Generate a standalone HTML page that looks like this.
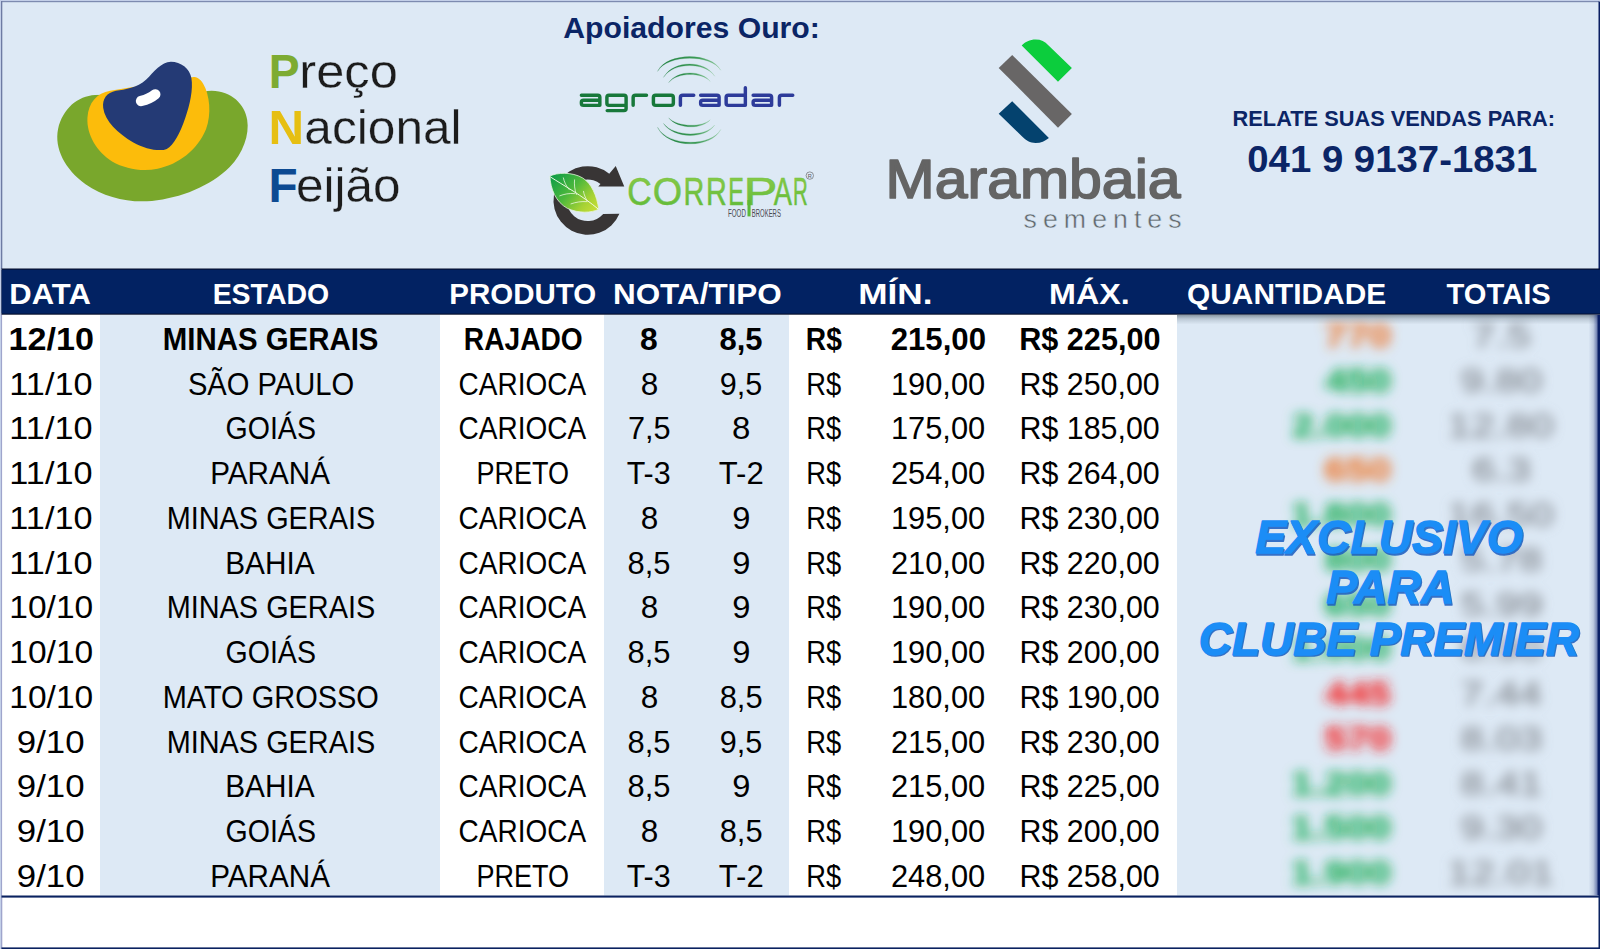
<!DOCTYPE html>
<html lang="pt-BR">
<head>
<meta charset="utf-8">
<title>Preço Nacional Feijão</title>
<style>
html,body{margin:0;padding:0;background:#fff;}
body{width:1600px;height:949px;overflow:hidden;font-family:"Liberation Sans",sans-serif;}
svg{display:block;}
text{white-space:pre;}
</style>
</head>
<body>
<svg width="1600" height="949" viewBox="0 0 1600 949">
<defs>
  <filter id="blur" x="-20%" y="-50%" width="140%" height="200%"><feGaussianBlur stdDeviation="5.9"/></filter>
  <filter id="blur2" x="-20%" y="-50%" width="140%" height="200%"><feGaussianBlur stdDeviation="3"/></filter>
  <linearGradient id="leafg" x1="0" y1="0.1" x2="1" y2="0.8">
    <stop offset="0" stop-color="#0d9c47"/><stop offset="0.45" stop-color="#4db83c"/><stop offset="0.8" stop-color="#a6d234"/><stop offset="1" stop-color="#c2dc36"/>
  </linearGradient>
  <linearGradient id="corg" x1="0" y1="0" x2="0" y2="1">
    <stop offset="0" stop-color="#90cd4a"/><stop offset="1" stop-color="#5ab838"/>
  </linearGradient>
  <linearGradient id="arcg" x1="0" y1="0" x2="1" y2="0">
    <stop offset="0" stop-color="#1f7f3f"/><stop offset="0.6" stop-color="#3a9a55"/><stop offset="1" stop-color="#8cc79a"/>
  </linearGradient>
  <linearGradient id="edge" x1="0" y1="0" x2="1" y2="0">
    <stop offset="0" stop-color="#1a2f78" stop-opacity="0"/><stop offset="0.5" stop-color="#1a2f78" stop-opacity="0.16"/><stop offset="0.85" stop-color="#14287a" stop-opacity="0.5"/><stop offset="1" stop-color="#0a1f66" stop-opacity="0.8"/>
  </linearGradient>
  <linearGradient id="topsh" x1="0" y1="0" x2="0" y2="1">
    <stop offset="0" stop-color="#4a5a66" stop-opacity="0.62"/><stop offset="0.45" stop-color="#5a6a78" stop-opacity="0.25"/><stop offset="1" stop-color="#5a6a78" stop-opacity="0"/>
  </linearGradient>
  <clipPath id="panelclip"><rect x="1177" y="314.5" width="423" height="581"/></clipPath>
</defs>

<rect x="0" y="0" width="1600" height="949" fill="#ffffff"/>
<rect x="0" y="0" width="1600" height="269" fill="#dde9f5"/>
<rect x="0" y="0" width="1600" height="1.2" fill="#c3cfe8"/>
<rect x="0" y="0" width="1.2" height="949" fill="#c3cfe8"/>
<rect x="1" y="1" width="1598" height="1.2" fill="#7d8bb0"/>
<rect x="1" y="1" width="1.3" height="268" fill="#6d7ba3"/>
<rect x="1" y="314" width="1.3" height="635" fill="#9fa5cc"/>
<rect x="1598.5" y="1.5" width="1.5" height="268" fill="#0a1f62"/>
<rect x="2.3" y="314.5" width="97.7" height="581.0" fill="#fff"/>
<rect x="100" y="314.5" width="340" height="581.0" fill="#dde9f5"/>
<rect x="440" y="314.5" width="164" height="581.0" fill="#fff"/>
<rect x="604" y="314.5" width="185" height="581.0" fill="#dde9f5"/>
<rect x="789" y="314.5" width="388" height="581.0" fill="#fff"/>
<rect x="1177" y="314.5" width="423" height="581.0" fill="#dde9f5"/>
<rect x="1.5" y="268.5" width="1598.5" height="46.2" fill="#050d2a"/>
<rect x="1.5" y="269.6" width="1598.5" height="44" fill="#022262"/>
<text x="9.29" y="304.40" font-family="Liberation Sans, sans-serif" font-size="29.94" font-weight="700" fill="#fff" textLength="81.49" lengthAdjust="spacingAndGlyphs" >DATA</text>
<text x="212.63" y="304.40" font-family="Liberation Sans, sans-serif" font-size="29.94" font-weight="700" fill="#fff" textLength="116.55" lengthAdjust="spacingAndGlyphs" >ESTADO</text>
<text x="449.28" y="304.40" font-family="Liberation Sans, sans-serif" font-size="29.94" font-weight="700" fill="#fff" textLength="146.95" lengthAdjust="spacingAndGlyphs" >PRODUTO</text>
<text x="612.93" y="304.40" font-family="Liberation Sans, sans-serif" font-size="29.94" font-weight="700" fill="#fff" textLength="168.88" lengthAdjust="spacingAndGlyphs" >NOTA/TIPO</text>
<text x="858.15" y="304.40" font-family="Liberation Sans, sans-serif" font-size="29.94" font-weight="700" fill="#fff" textLength="74.28" lengthAdjust="spacingAndGlyphs" >MÍN.</text>
<text x="1049.09" y="304.40" font-family="Liberation Sans, sans-serif" font-size="29.94" font-weight="700" fill="#fff" textLength="80.63" lengthAdjust="spacingAndGlyphs" >MÁX.</text>
<text x="1187.08" y="304.40" font-family="Liberation Sans, sans-serif" font-size="29.94" font-weight="700" fill="#fff" textLength="199.09" lengthAdjust="spacingAndGlyphs" >QUANTIDADE</text>
<text x="1446.58" y="304.40" font-family="Liberation Sans, sans-serif" font-size="29.94" font-weight="700" fill="#fff" textLength="104.13" lengthAdjust="spacingAndGlyphs" >TOTAIS</text>
<g>
<text x="8.45" y="349.90" font-family="Liberation Sans, sans-serif" font-size="31.69" font-weight="700" fill="#000" textLength="85.45" lengthAdjust="spacingAndGlyphs" >12/10</text>
<text x="162.83" y="349.90" font-family="Liberation Sans, sans-serif" font-size="31.69" font-weight="700" fill="#000" textLength="215.62" lengthAdjust="spacingAndGlyphs" >MINAS GERAIS</text>
<text x="463.82" y="349.90" font-family="Liberation Sans, sans-serif" font-size="31.69" font-weight="700" fill="#000" textLength="118.87" lengthAdjust="spacingAndGlyphs" >RAJADO</text>
<text x="639.99" y="349.90" font-family="Liberation Sans, sans-serif" font-size="31.69" font-weight="700" fill="#000" textLength="17.69" lengthAdjust="spacingAndGlyphs" >8</text>
<text x="719.52" y="349.90" font-family="Liberation Sans, sans-serif" font-size="31.69" font-weight="700" fill="#000" textLength="43.04" lengthAdjust="spacingAndGlyphs" >8,5</text>
<text x="805.86" y="349.90" font-family="Liberation Sans, sans-serif" font-size="31.69" font-weight="700" fill="#000" textLength="36.03" lengthAdjust="spacingAndGlyphs" >R$</text>
<text x="890.67" y="349.90" font-family="Liberation Sans, sans-serif" font-size="31.69" font-weight="700" fill="#000" textLength="95.36" lengthAdjust="spacingAndGlyphs" >215,00</text>
<text x="1019.20" y="349.90" font-family="Liberation Sans, sans-serif" font-size="31.69" font-weight="700" fill="#000" textLength="141.30" lengthAdjust="spacingAndGlyphs" >R$ 225,00</text>
</g>
<g>
<text x="9.37" y="394.64" font-family="Liberation Sans, sans-serif" font-size="31.69" font-weight="400" fill="#000" textLength="83.18" lengthAdjust="spacingAndGlyphs" >11/10</text>
<text x="187.89" y="394.64" font-family="Liberation Sans, sans-serif" font-size="31.69" font-weight="400" fill="#000" textLength="166.38" lengthAdjust="spacingAndGlyphs" >SÃO PAULO</text>
<text x="458.58" y="394.64" font-family="Liberation Sans, sans-serif" font-size="31.69" font-weight="400" fill="#000" textLength="127.48" lengthAdjust="spacingAndGlyphs" >CARIOCA</text>
<text x="640.63" y="394.64" font-family="Liberation Sans, sans-serif" font-size="31.69" font-weight="400" fill="#000" textLength="17.54" lengthAdjust="spacingAndGlyphs" >8</text>
<text x="719.82" y="394.64" font-family="Liberation Sans, sans-serif" font-size="31.69" font-weight="400" fill="#000" textLength="42.46" lengthAdjust="spacingAndGlyphs" >9,5</text>
<text x="806.26" y="394.64" font-family="Liberation Sans, sans-serif" font-size="31.69" font-weight="400" fill="#000" textLength="34.93" lengthAdjust="spacingAndGlyphs" >R$</text>
<text x="890.90" y="394.64" font-family="Liberation Sans, sans-serif" font-size="31.69" font-weight="400" fill="#000" textLength="94.30" lengthAdjust="spacingAndGlyphs" >190,00</text>
<text x="1019.51" y="394.64" font-family="Liberation Sans, sans-serif" font-size="31.69" font-weight="400" fill="#000" textLength="140.18" lengthAdjust="spacingAndGlyphs" >R$ 250,00</text>
</g>
<g>
<text x="9.37" y="439.38" font-family="Liberation Sans, sans-serif" font-size="31.69" font-weight="400" fill="#000" textLength="83.18" lengthAdjust="spacingAndGlyphs" >11/10</text>
<text x="225.57" y="439.38" font-family="Liberation Sans, sans-serif" font-size="31.69" font-weight="400" fill="#000" textLength="90.34" lengthAdjust="spacingAndGlyphs" >GOIÁS</text>
<text x="458.58" y="439.38" font-family="Liberation Sans, sans-serif" font-size="31.69" font-weight="400" fill="#000" textLength="127.48" lengthAdjust="spacingAndGlyphs" >CARIOCA</text>
<text x="627.93" y="439.38" font-family="Liberation Sans, sans-serif" font-size="31.69" font-weight="400" fill="#000" textLength="42.66" lengthAdjust="spacingAndGlyphs" >7,5</text>
<text x="732.06" y="439.38" font-family="Liberation Sans, sans-serif" font-size="31.69" font-weight="400" fill="#000" textLength="18.37" lengthAdjust="spacingAndGlyphs" >8</text>
<text x="806.26" y="439.38" font-family="Liberation Sans, sans-serif" font-size="31.69" font-weight="400" fill="#000" textLength="34.93" lengthAdjust="spacingAndGlyphs" >R$</text>
<text x="890.90" y="439.38" font-family="Liberation Sans, sans-serif" font-size="31.69" font-weight="400" fill="#000" textLength="94.30" lengthAdjust="spacingAndGlyphs" >175,00</text>
<text x="1019.51" y="439.38" font-family="Liberation Sans, sans-serif" font-size="31.69" font-weight="400" fill="#000" textLength="140.18" lengthAdjust="spacingAndGlyphs" >R$ 185,00</text>
</g>
<g>
<text x="9.37" y="484.12" font-family="Liberation Sans, sans-serif" font-size="31.69" font-weight="400" fill="#000" textLength="83.18" lengthAdjust="spacingAndGlyphs" >11/10</text>
<text x="210.21" y="484.12" font-family="Liberation Sans, sans-serif" font-size="31.69" font-weight="400" fill="#000" textLength="119.75" lengthAdjust="spacingAndGlyphs" >PARANÁ</text>
<text x="476.50" y="484.12" font-family="Liberation Sans, sans-serif" font-size="31.69" font-weight="400" fill="#000" textLength="92.59" lengthAdjust="spacingAndGlyphs" >PRETO</text>
<text x="626.64" y="484.12" font-family="Liberation Sans, sans-serif" font-size="31.69" font-weight="400" fill="#000" textLength="43.95" lengthAdjust="spacingAndGlyphs" >T-3</text>
<text x="718.83" y="484.12" font-family="Liberation Sans, sans-serif" font-size="31.69" font-weight="400" fill="#000" textLength="44.88" lengthAdjust="spacingAndGlyphs" >T-2</text>
<text x="806.26" y="484.12" font-family="Liberation Sans, sans-serif" font-size="31.69" font-weight="400" fill="#000" textLength="34.93" lengthAdjust="spacingAndGlyphs" >R$</text>
<text x="890.90" y="484.12" font-family="Liberation Sans, sans-serif" font-size="31.69" font-weight="400" fill="#000" textLength="94.30" lengthAdjust="spacingAndGlyphs" >254,00</text>
<text x="1019.51" y="484.12" font-family="Liberation Sans, sans-serif" font-size="31.69" font-weight="400" fill="#000" textLength="140.18" lengthAdjust="spacingAndGlyphs" >R$ 264,00</text>
</g>
<g>
<text x="9.37" y="528.86" font-family="Liberation Sans, sans-serif" font-size="31.69" font-weight="400" fill="#000" textLength="83.18" lengthAdjust="spacingAndGlyphs" >11/10</text>
<text x="166.73" y="528.86" font-family="Liberation Sans, sans-serif" font-size="31.69" font-weight="400" fill="#000" textLength="208.49" lengthAdjust="spacingAndGlyphs" >MINAS GERAIS</text>
<text x="458.58" y="528.86" font-family="Liberation Sans, sans-serif" font-size="31.69" font-weight="400" fill="#000" textLength="127.48" lengthAdjust="spacingAndGlyphs" >CARIOCA</text>
<text x="640.63" y="528.86" font-family="Liberation Sans, sans-serif" font-size="31.69" font-weight="400" fill="#000" textLength="17.54" lengthAdjust="spacingAndGlyphs" >8</text>
<text x="732.37" y="528.86" font-family="Liberation Sans, sans-serif" font-size="31.69" font-weight="400" fill="#000" textLength="18.18" lengthAdjust="spacingAndGlyphs" >9</text>
<text x="806.26" y="528.86" font-family="Liberation Sans, sans-serif" font-size="31.69" font-weight="400" fill="#000" textLength="34.93" lengthAdjust="spacingAndGlyphs" >R$</text>
<text x="890.90" y="528.86" font-family="Liberation Sans, sans-serif" font-size="31.69" font-weight="400" fill="#000" textLength="94.30" lengthAdjust="spacingAndGlyphs" >195,00</text>
<text x="1019.51" y="528.86" font-family="Liberation Sans, sans-serif" font-size="31.69" font-weight="400" fill="#000" textLength="140.18" lengthAdjust="spacingAndGlyphs" >R$ 230,00</text>
</g>
<g>
<text x="9.37" y="573.60" font-family="Liberation Sans, sans-serif" font-size="31.69" font-weight="400" fill="#000" textLength="83.18" lengthAdjust="spacingAndGlyphs" >11/10</text>
<text x="225.26" y="573.60" font-family="Liberation Sans, sans-serif" font-size="31.69" font-weight="400" fill="#000" textLength="89.30" lengthAdjust="spacingAndGlyphs" >BAHIA</text>
<text x="458.58" y="573.60" font-family="Liberation Sans, sans-serif" font-size="31.69" font-weight="400" fill="#000" textLength="127.48" lengthAdjust="spacingAndGlyphs" >CARIOCA</text>
<text x="627.56" y="573.60" font-family="Liberation Sans, sans-serif" font-size="31.69" font-weight="400" fill="#000" textLength="42.94" lengthAdjust="spacingAndGlyphs" >8,5</text>
<text x="732.37" y="573.60" font-family="Liberation Sans, sans-serif" font-size="31.69" font-weight="400" fill="#000" textLength="18.18" lengthAdjust="spacingAndGlyphs" >9</text>
<text x="806.26" y="573.60" font-family="Liberation Sans, sans-serif" font-size="31.69" font-weight="400" fill="#000" textLength="34.93" lengthAdjust="spacingAndGlyphs" >R$</text>
<text x="890.90" y="573.60" font-family="Liberation Sans, sans-serif" font-size="31.69" font-weight="400" fill="#000" textLength="94.30" lengthAdjust="spacingAndGlyphs" >210,00</text>
<text x="1019.51" y="573.60" font-family="Liberation Sans, sans-serif" font-size="31.69" font-weight="400" fill="#000" textLength="140.18" lengthAdjust="spacingAndGlyphs" >R$ 220,00</text>
</g>
<g>
<text x="9.35" y="618.34" font-family="Liberation Sans, sans-serif" font-size="31.69" font-weight="400" fill="#000" textLength="83.86" lengthAdjust="spacingAndGlyphs" >10/10</text>
<text x="166.73" y="618.34" font-family="Liberation Sans, sans-serif" font-size="31.69" font-weight="400" fill="#000" textLength="208.49" lengthAdjust="spacingAndGlyphs" >MINAS GERAIS</text>
<text x="458.58" y="618.34" font-family="Liberation Sans, sans-serif" font-size="31.69" font-weight="400" fill="#000" textLength="127.48" lengthAdjust="spacingAndGlyphs" >CARIOCA</text>
<text x="640.63" y="618.34" font-family="Liberation Sans, sans-serif" font-size="31.69" font-weight="400" fill="#000" textLength="17.54" lengthAdjust="spacingAndGlyphs" >8</text>
<text x="732.37" y="618.34" font-family="Liberation Sans, sans-serif" font-size="31.69" font-weight="400" fill="#000" textLength="18.18" lengthAdjust="spacingAndGlyphs" >9</text>
<text x="806.26" y="618.34" font-family="Liberation Sans, sans-serif" font-size="31.69" font-weight="400" fill="#000" textLength="34.93" lengthAdjust="spacingAndGlyphs" >R$</text>
<text x="890.90" y="618.34" font-family="Liberation Sans, sans-serif" font-size="31.69" font-weight="400" fill="#000" textLength="94.30" lengthAdjust="spacingAndGlyphs" >190,00</text>
<text x="1019.51" y="618.34" font-family="Liberation Sans, sans-serif" font-size="31.69" font-weight="400" fill="#000" textLength="140.18" lengthAdjust="spacingAndGlyphs" >R$ 230,00</text>
</g>
<g>
<text x="9.35" y="663.08" font-family="Liberation Sans, sans-serif" font-size="31.69" font-weight="400" fill="#000" textLength="83.86" lengthAdjust="spacingAndGlyphs" >10/10</text>
<text x="225.57" y="663.08" font-family="Liberation Sans, sans-serif" font-size="31.69" font-weight="400" fill="#000" textLength="90.34" lengthAdjust="spacingAndGlyphs" >GOIÁS</text>
<text x="458.58" y="663.08" font-family="Liberation Sans, sans-serif" font-size="31.69" font-weight="400" fill="#000" textLength="127.48" lengthAdjust="spacingAndGlyphs" >CARIOCA</text>
<text x="627.56" y="663.08" font-family="Liberation Sans, sans-serif" font-size="31.69" font-weight="400" fill="#000" textLength="42.94" lengthAdjust="spacingAndGlyphs" >8,5</text>
<text x="732.37" y="663.08" font-family="Liberation Sans, sans-serif" font-size="31.69" font-weight="400" fill="#000" textLength="18.18" lengthAdjust="spacingAndGlyphs" >9</text>
<text x="806.26" y="663.08" font-family="Liberation Sans, sans-serif" font-size="31.69" font-weight="400" fill="#000" textLength="34.93" lengthAdjust="spacingAndGlyphs" >R$</text>
<text x="890.90" y="663.08" font-family="Liberation Sans, sans-serif" font-size="31.69" font-weight="400" fill="#000" textLength="94.30" lengthAdjust="spacingAndGlyphs" >190,00</text>
<text x="1019.51" y="663.08" font-family="Liberation Sans, sans-serif" font-size="31.69" font-weight="400" fill="#000" textLength="140.18" lengthAdjust="spacingAndGlyphs" >R$ 200,00</text>
</g>
<g>
<text x="9.35" y="707.82" font-family="Liberation Sans, sans-serif" font-size="31.69" font-weight="400" fill="#000" textLength="83.86" lengthAdjust="spacingAndGlyphs" >10/10</text>
<text x="162.65" y="707.82" font-family="Liberation Sans, sans-serif" font-size="31.69" font-weight="400" fill="#000" textLength="216.22" lengthAdjust="spacingAndGlyphs" >MATO GROSSO</text>
<text x="458.58" y="707.82" font-family="Liberation Sans, sans-serif" font-size="31.69" font-weight="400" fill="#000" textLength="127.48" lengthAdjust="spacingAndGlyphs" >CARIOCA</text>
<text x="640.63" y="707.82" font-family="Liberation Sans, sans-serif" font-size="31.69" font-weight="400" fill="#000" textLength="17.54" lengthAdjust="spacingAndGlyphs" >8</text>
<text x="719.66" y="707.82" font-family="Liberation Sans, sans-serif" font-size="31.69" font-weight="400" fill="#000" textLength="42.94" lengthAdjust="spacingAndGlyphs" >8,5</text>
<text x="806.26" y="707.82" font-family="Liberation Sans, sans-serif" font-size="31.69" font-weight="400" fill="#000" textLength="34.93" lengthAdjust="spacingAndGlyphs" >R$</text>
<text x="890.90" y="707.82" font-family="Liberation Sans, sans-serif" font-size="31.69" font-weight="400" fill="#000" textLength="94.30" lengthAdjust="spacingAndGlyphs" >180,00</text>
<text x="1019.51" y="707.82" font-family="Liberation Sans, sans-serif" font-size="31.69" font-weight="400" fill="#000" textLength="140.18" lengthAdjust="spacingAndGlyphs" >R$ 190,00</text>
</g>
<g>
<text x="16.77" y="752.56" font-family="Liberation Sans, sans-serif" font-size="31.69" font-weight="400" fill="#000" textLength="67.79" lengthAdjust="spacingAndGlyphs" >9/10</text>
<text x="166.73" y="752.56" font-family="Liberation Sans, sans-serif" font-size="31.69" font-weight="400" fill="#000" textLength="208.49" lengthAdjust="spacingAndGlyphs" >MINAS GERAIS</text>
<text x="458.58" y="752.56" font-family="Liberation Sans, sans-serif" font-size="31.69" font-weight="400" fill="#000" textLength="127.48" lengthAdjust="spacingAndGlyphs" >CARIOCA</text>
<text x="627.56" y="752.56" font-family="Liberation Sans, sans-serif" font-size="31.69" font-weight="400" fill="#000" textLength="42.94" lengthAdjust="spacingAndGlyphs" >8,5</text>
<text x="719.82" y="752.56" font-family="Liberation Sans, sans-serif" font-size="31.69" font-weight="400" fill="#000" textLength="42.46" lengthAdjust="spacingAndGlyphs" >9,5</text>
<text x="806.26" y="752.56" font-family="Liberation Sans, sans-serif" font-size="31.69" font-weight="400" fill="#000" textLength="34.93" lengthAdjust="spacingAndGlyphs" >R$</text>
<text x="890.90" y="752.56" font-family="Liberation Sans, sans-serif" font-size="31.69" font-weight="400" fill="#000" textLength="94.30" lengthAdjust="spacingAndGlyphs" >215,00</text>
<text x="1019.51" y="752.56" font-family="Liberation Sans, sans-serif" font-size="31.69" font-weight="400" fill="#000" textLength="140.18" lengthAdjust="spacingAndGlyphs" >R$ 230,00</text>
</g>
<g>
<text x="16.77" y="797.30" font-family="Liberation Sans, sans-serif" font-size="31.69" font-weight="400" fill="#000" textLength="67.79" lengthAdjust="spacingAndGlyphs" >9/10</text>
<text x="225.26" y="797.30" font-family="Liberation Sans, sans-serif" font-size="31.69" font-weight="400" fill="#000" textLength="89.30" lengthAdjust="spacingAndGlyphs" >BAHIA</text>
<text x="458.58" y="797.30" font-family="Liberation Sans, sans-serif" font-size="31.69" font-weight="400" fill="#000" textLength="127.48" lengthAdjust="spacingAndGlyphs" >CARIOCA</text>
<text x="627.56" y="797.30" font-family="Liberation Sans, sans-serif" font-size="31.69" font-weight="400" fill="#000" textLength="42.94" lengthAdjust="spacingAndGlyphs" >8,5</text>
<text x="732.37" y="797.30" font-family="Liberation Sans, sans-serif" font-size="31.69" font-weight="400" fill="#000" textLength="18.18" lengthAdjust="spacingAndGlyphs" >9</text>
<text x="806.26" y="797.30" font-family="Liberation Sans, sans-serif" font-size="31.69" font-weight="400" fill="#000" textLength="34.93" lengthAdjust="spacingAndGlyphs" >R$</text>
<text x="890.90" y="797.30" font-family="Liberation Sans, sans-serif" font-size="31.69" font-weight="400" fill="#000" textLength="94.30" lengthAdjust="spacingAndGlyphs" >215,00</text>
<text x="1019.51" y="797.30" font-family="Liberation Sans, sans-serif" font-size="31.69" font-weight="400" fill="#000" textLength="140.18" lengthAdjust="spacingAndGlyphs" >R$ 225,00</text>
</g>
<g>
<text x="16.77" y="842.04" font-family="Liberation Sans, sans-serif" font-size="31.69" font-weight="400" fill="#000" textLength="67.79" lengthAdjust="spacingAndGlyphs" >9/10</text>
<text x="225.57" y="842.04" font-family="Liberation Sans, sans-serif" font-size="31.69" font-weight="400" fill="#000" textLength="90.34" lengthAdjust="spacingAndGlyphs" >GOIÁS</text>
<text x="458.58" y="842.04" font-family="Liberation Sans, sans-serif" font-size="31.69" font-weight="400" fill="#000" textLength="127.48" lengthAdjust="spacingAndGlyphs" >CARIOCA</text>
<text x="640.63" y="842.04" font-family="Liberation Sans, sans-serif" font-size="31.69" font-weight="400" fill="#000" textLength="17.54" lengthAdjust="spacingAndGlyphs" >8</text>
<text x="719.66" y="842.04" font-family="Liberation Sans, sans-serif" font-size="31.69" font-weight="400" fill="#000" textLength="42.94" lengthAdjust="spacingAndGlyphs" >8,5</text>
<text x="806.26" y="842.04" font-family="Liberation Sans, sans-serif" font-size="31.69" font-weight="400" fill="#000" textLength="34.93" lengthAdjust="spacingAndGlyphs" >R$</text>
<text x="890.90" y="842.04" font-family="Liberation Sans, sans-serif" font-size="31.69" font-weight="400" fill="#000" textLength="94.30" lengthAdjust="spacingAndGlyphs" >190,00</text>
<text x="1019.51" y="842.04" font-family="Liberation Sans, sans-serif" font-size="31.69" font-weight="400" fill="#000" textLength="140.18" lengthAdjust="spacingAndGlyphs" >R$ 200,00</text>
</g>
<g>
<text x="16.77" y="886.78" font-family="Liberation Sans, sans-serif" font-size="31.69" font-weight="400" fill="#000" textLength="67.79" lengthAdjust="spacingAndGlyphs" >9/10</text>
<text x="210.21" y="886.78" font-family="Liberation Sans, sans-serif" font-size="31.69" font-weight="400" fill="#000" textLength="119.75" lengthAdjust="spacingAndGlyphs" >PARANÁ</text>
<text x="476.50" y="886.78" font-family="Liberation Sans, sans-serif" font-size="31.69" font-weight="400" fill="#000" textLength="92.59" lengthAdjust="spacingAndGlyphs" >PRETO</text>
<text x="626.64" y="886.78" font-family="Liberation Sans, sans-serif" font-size="31.69" font-weight="400" fill="#000" textLength="43.95" lengthAdjust="spacingAndGlyphs" >T-3</text>
<text x="718.83" y="886.78" font-family="Liberation Sans, sans-serif" font-size="31.69" font-weight="400" fill="#000" textLength="44.88" lengthAdjust="spacingAndGlyphs" >T-2</text>
<text x="806.26" y="886.78" font-family="Liberation Sans, sans-serif" font-size="31.69" font-weight="400" fill="#000" textLength="34.93" lengthAdjust="spacingAndGlyphs" >R$</text>
<text x="890.90" y="886.78" font-family="Liberation Sans, sans-serif" font-size="31.69" font-weight="400" fill="#000" textLength="94.30" lengthAdjust="spacingAndGlyphs" >248,00</text>
<text x="1019.51" y="886.78" font-family="Liberation Sans, sans-serif" font-size="31.69" font-weight="400" fill="#000" textLength="140.18" lengthAdjust="spacingAndGlyphs" >R$ 258,00</text>
</g>
<g clip-path="url(#panelclip)">
<g filter="url(#blur)">
<text x="1324.07" y="347.20" font-family="Liberation Sans, sans-serif" font-size="32.32" font-weight="700" fill="#ee7a33" textLength="67.08" lengthAdjust="spacingAndGlyphs" stroke="#ee7a33" stroke-width="0.5">770</text>
<text x="1471.88" y="347.20" font-family="Liberation Sans, sans-serif" font-size="32.32" font-weight="400" fill="#83888f" textLength="58.85" lengthAdjust="spacingAndGlyphs" stroke="#83888f" stroke-width="0.5">7.5</text>
<text x="1325.20" y="391.94" font-family="Liberation Sans, sans-serif" font-size="32.32" font-weight="700" fill="#1cae58" textLength="65.92" lengthAdjust="spacingAndGlyphs" stroke="#1cae58" stroke-width="0.5">450</text>
<text x="1460.48" y="391.94" font-family="Liberation Sans, sans-serif" font-size="32.32" font-weight="400" fill="#83888f" textLength="81.71" lengthAdjust="spacingAndGlyphs" stroke="#83888f" stroke-width="0.5">9.80</text>
<text x="1292.03" y="436.68" font-family="Liberation Sans, sans-serif" font-size="32.32" font-weight="700" fill="#1cae58" textLength="99.10" lengthAdjust="spacingAndGlyphs" stroke="#1cae58" stroke-width="0.5">2.000</text>
<text x="1447.62" y="436.68" font-family="Liberation Sans, sans-serif" font-size="32.32" font-weight="400" fill="#83888f" textLength="106.19" lengthAdjust="spacingAndGlyphs" stroke="#83888f" stroke-width="0.5">12.80</text>
<text x="1324.33" y="481.42" font-family="Liberation Sans, sans-serif" font-size="32.32" font-weight="700" fill="#ee7a33" textLength="66.81" lengthAdjust="spacingAndGlyphs" stroke="#ee7a33" stroke-width="0.5">650</text>
<text x="1471.90" y="481.42" font-family="Liberation Sans, sans-serif" font-size="32.32" font-weight="400" fill="#83888f" textLength="58.91" lengthAdjust="spacingAndGlyphs" stroke="#83888f" stroke-width="0.5">6.3</text>
<text x="1290.88" y="526.16" font-family="Liberation Sans, sans-serif" font-size="32.32" font-weight="700" fill="#1cae58" textLength="100.27" lengthAdjust="spacingAndGlyphs" stroke="#1cae58" stroke-width="0.5">1.800</text>
<text x="1447.62" y="526.16" font-family="Liberation Sans, sans-serif" font-size="32.32" font-weight="400" fill="#83888f" textLength="106.19" lengthAdjust="spacingAndGlyphs" stroke="#83888f" stroke-width="0.5">16.50</text>
<text x="1324.53" y="570.90" font-family="Liberation Sans, sans-serif" font-size="32.32" font-weight="700" fill="#1cae58" textLength="66.60" lengthAdjust="spacingAndGlyphs" stroke="#1cae58" stroke-width="0.5">800</text>
<text x="1460.77" y="570.90" font-family="Liberation Sans, sans-serif" font-size="32.32" font-weight="400" fill="#83888f" textLength="81.60" lengthAdjust="spacingAndGlyphs" stroke="#83888f" stroke-width="0.5">5.78</text>
<text x="1324.33" y="615.64" font-family="Liberation Sans, sans-serif" font-size="32.32" font-weight="700" fill="#1cae58" textLength="66.81" lengthAdjust="spacingAndGlyphs" stroke="#1cae58" stroke-width="0.5">650</text>
<text x="1460.77" y="615.64" font-family="Liberation Sans, sans-serif" font-size="32.32" font-weight="400" fill="#83888f" textLength="81.77" lengthAdjust="spacingAndGlyphs" stroke="#83888f" stroke-width="0.5">5.99</text>
<text x="1290.88" y="660.38" font-family="Liberation Sans, sans-serif" font-size="32.32" font-weight="700" fill="#1cae58" textLength="100.27" lengthAdjust="spacingAndGlyphs" stroke="#1cae58" stroke-width="0.5">1.000</text>
<text x="1460.31" y="660.38" font-family="Liberation Sans, sans-serif" font-size="32.32" font-weight="400" fill="#83888f" textLength="81.88" lengthAdjust="spacingAndGlyphs" stroke="#83888f" stroke-width="0.5">6.90</text>
<text x="1325.21" y="705.12" font-family="Liberation Sans, sans-serif" font-size="32.32" font-weight="700" fill="#f52222" textLength="65.38" lengthAdjust="spacingAndGlyphs" stroke="#f52222" stroke-width="0.5">445</text>
<text x="1460.30" y="705.12" font-family="Liberation Sans, sans-serif" font-size="32.32" font-weight="400" fill="#83888f" textLength="81.47" lengthAdjust="spacingAndGlyphs" stroke="#83888f" stroke-width="0.5">7.44</text>
<text x="1324.57" y="749.86" font-family="Liberation Sans, sans-serif" font-size="32.32" font-weight="700" fill="#f52222" textLength="66.56" lengthAdjust="spacingAndGlyphs" stroke="#f52222" stroke-width="0.5">570</text>
<text x="1460.62" y="749.86" font-family="Liberation Sans, sans-serif" font-size="32.32" font-weight="400" fill="#83888f" textLength="81.77" lengthAdjust="spacingAndGlyphs" stroke="#83888f" stroke-width="0.5">8.03</text>
<text x="1290.88" y="794.60" font-family="Liberation Sans, sans-serif" font-size="32.32" font-weight="700" fill="#1cae58" textLength="100.27" lengthAdjust="spacingAndGlyphs" stroke="#1cae58" stroke-width="0.5">1.200</text>
<text x="1460.62" y="794.60" font-family="Liberation Sans, sans-serif" font-size="32.32" font-weight="400" fill="#83888f" textLength="81.99" lengthAdjust="spacingAndGlyphs" stroke="#83888f" stroke-width="0.5">8.41</text>
<text x="1290.88" y="839.34" font-family="Liberation Sans, sans-serif" font-size="32.32" font-weight="700" fill="#1cae58" textLength="100.27" lengthAdjust="spacingAndGlyphs" stroke="#1cae58" stroke-width="0.5">1.500</text>
<text x="1460.48" y="839.34" font-family="Liberation Sans, sans-serif" font-size="32.32" font-weight="400" fill="#83888f" textLength="81.71" lengthAdjust="spacingAndGlyphs" stroke="#83888f" stroke-width="0.5">9.30</text>
<text x="1290.88" y="884.08" font-family="Liberation Sans, sans-serif" font-size="32.32" font-weight="700" fill="#1cae58" textLength="100.27" lengthAdjust="spacingAndGlyphs" stroke="#1cae58" stroke-width="0.5">1.900</text>
<text x="1447.60" y="884.08" font-family="Liberation Sans, sans-serif" font-size="32.32" font-weight="400" fill="#83888f" textLength="106.63" lengthAdjust="spacingAndGlyphs" stroke="#83888f" stroke-width="0.5">12.01</text>
</g>
<rect x="1177" y="314.5" width="423" height="10" fill="url(#topsh)"/>
<rect x="1588.5" y="314.5" width="9.5" height="581" fill="url(#edge)"/>
<rect x="1597.8" y="314.5" width="2.2" height="581" fill="#0a1f66"/>
</g>
<text x="1256.19" y="554.70" font-family="Liberation Sans, sans-serif" font-size="47.09" font-weight="700" font-style="italic" fill="#1a5cc0" textLength="267.58" lengthAdjust="spacingAndGlyphs" stroke="#1a5cc0" stroke-width="1.6" stroke-linejoin="round" opacity="0.85">EXCLUSIVO</text>
<text x="1255.19" y="553.20" font-family="Liberation Sans, sans-serif" font-size="47.09" font-weight="700" font-style="italic" fill="#1b8df6" textLength="267.58" lengthAdjust="spacingAndGlyphs" stroke="#1b8df6" stroke-width="1.4" stroke-linejoin="round">EXCLUSIVO</text>
<text x="1327.21" y="604.90" font-family="Liberation Sans, sans-serif" font-size="47.09" font-weight="700" font-style="italic" fill="#1a5cc0" textLength="128.06" lengthAdjust="spacingAndGlyphs" stroke="#1a5cc0" stroke-width="1.6" stroke-linejoin="round" opacity="0.85">PARA</text>
<text x="1326.21" y="603.40" font-family="Liberation Sans, sans-serif" font-size="47.09" font-weight="700" font-style="italic" fill="#1b8df6" textLength="128.06" lengthAdjust="spacingAndGlyphs" stroke="#1b8df6" stroke-width="1.4" stroke-linejoin="round">PARA</text>
<text x="1199.76" y="656.00" font-family="Liberation Sans, sans-serif" font-size="47.09" font-weight="700" font-style="italic" fill="#1a5cc0" textLength="380.16" lengthAdjust="spacingAndGlyphs" stroke="#1a5cc0" stroke-width="1.6" stroke-linejoin="round" opacity="0.85">CLUBE PREMIER</text>
<text x="1198.76" y="654.50" font-family="Liberation Sans, sans-serif" font-size="47.09" font-weight="700" font-style="italic" fill="#1b8df6" textLength="380.16" lengthAdjust="spacingAndGlyphs" stroke="#1b8df6" stroke-width="1.4" stroke-linejoin="round">CLUBE PREMIER</text>
<rect x="1.5" y="895.5" width="1598.5" height="2.1" fill="#0a2260"/>
<rect x="1.5" y="947.4" width="1598.5" height="1.6" fill="#0a2260"/>
<rect x="1598.5" y="895" width="1.5" height="54" fill="#0a2260"/>
<g transform="translate(40,40) scale(0.189723)">
<path fill="#79a72c" d="M290,290 C200,295 120,360 95,470 C75,570 130,680 240,760 C340,830 470,860 590,848 C740,835 900,770 1000,670 C1070,595 1105,500 1092,420 C1080,340 1010,270 905,268 C890,268 875,270 860,275 Z"/>
<path fill="#fcbc0b" d="M370,268 C300,280 255,330 250,410 C245,500 300,590 380,640 C450,680 540,695 620,678 C730,655 830,580 875,470 C905,390 895,290 860,230 C845,205 825,195 810,195 Z"/>
<path fill="#243a75" d="M690,114 C640,114 600,168 560,208 C510,253 450,260 400,268 C352,278 328,310 333,357 C342,428 410,492 492,540 C555,575 632,590 668,574 C705,556 738,492 766,410 C790,340 808,262 798,200 C790,150 742,114 690,114 Z"/>
<path d="M532,322 Q580,310 608,286" fill="none" stroke="#fff" stroke-width="54" stroke-linecap="round"/>
</g>
<text x="268.70" y="88.40" font-family="Liberation Sans, sans-serif" font-size="48.26" font-weight="700" fill="#7dab32" textLength="30.88" lengthAdjust="spacingAndGlyphs" >P</text>
<text x="299.34" y="88.40" font-family="Liberation Sans, sans-serif" font-size="48.26" font-weight="400" fill="#1c1c1c" textLength="98.49" lengthAdjust="spacingAndGlyphs" stroke="#dde9f5" stroke-width="0.3">reço</text>
<text x="268.50" y="144.40" font-family="Liberation Sans, sans-serif" font-size="48.26" font-weight="700" fill="#e6bf12" textLength="35.62" lengthAdjust="spacingAndGlyphs" >N</text>
<text x="304.39" y="144.40" font-family="Liberation Sans, sans-serif" font-size="48.26" font-weight="400" fill="#1c1c1c" textLength="157.23" lengthAdjust="spacingAndGlyphs" stroke="#dde9f5" stroke-width="0.3">acional</text>
<text x="268.61" y="202.20" font-family="Liberation Sans, sans-serif" font-size="48.26" font-weight="700" fill="#0d4a92" textLength="29.14" lengthAdjust="spacingAndGlyphs" >F</text>
<text x="295.90" y="202.20" font-family="Liberation Sans, sans-serif" font-size="48.26" font-weight="400" fill="#1c1c1c" textLength="104.69" lengthAdjust="spacingAndGlyphs" stroke="#dde9f5" stroke-width="0.3">eijão</text>
<text x="563.25" y="38.15" font-family="Liberation Sans, sans-serif" font-size="29.94" font-weight="700" fill="#0b2566" textLength="256.55" lengthAdjust="spacingAndGlyphs" >Apoiadores Ouro:</text>
<g transform="translate(570,50) scale(0.15)" fill="none" stroke-linecap="round" stroke-linejoin="round">
<g stroke="#17783a" stroke-width="23">
<path d="M76,301 H185 Q199,301 199,315 V369 H90 Q76,369 76,357 V347 Q76,335 90,335 H199"/>
<path d="M374,369 H260 Q246,369 246,355 V315 Q246,301 260,301 H360 Q374,301 374,315 V390 Q374,404 360,404 H248"/>
<path d="M421,369 V317 Q421,301 437,301 H510"/>
<rect x="556" y="301" width="133" height="68" rx="15"/>
</g>
<g stroke="#2d3b9a" stroke-width="23">
<path d="M736,369 V317 Q736,301 752,301 H825"/>
<path d="M871,301 H980 Q994,301 994,315 V369 H885 Q871,369 871,357 V347 Q871,335 885,335 H994"/>
<path d="M1169,252 V369 H1055 Q1041,369 1041,355 V315 Q1041,301 1055,301 H1169"/>
<path d="M1221,301 H1330 Q1344,301 1344,315 V369 H1235 Q1221,369 1221,357 V347 Q1221,335 1235,335 H1344"/>
<path d="M1396,369 V317 Q1396,301 1412,301 H1485"/>
</g>
<g fill="url(#arcg)" stroke="url(#arcg)" stroke-width="1.5">
<path d="M585,140 C650,13 940,13 1005,135 C940,27 650,27 585,140 Z"/>
<path d="M625,180 C690,65 900,65 965,175 C900,79 690,79 625,180 Z"/>
<path d="M660,215 C715,133 880,133 935,210 C880,147 715,147 660,215 Z"/>
<path d="M660,455 C715,513 880,518 935,465 C880,532 715,527 660,455 Z"/>
<path d="M625,492 C690,578 900,583 965,500 C900,597 690,592 625,492 Z"/>
<path d="M585,518 C650,643 940,648 1005,530 C940,662 650,657 585,518 Z"/>
</g>
</g>
<g transform="translate(545,160) scale(0.089552)">
<path fill="#383535" d="M831,600 A383,383 0 1 1 717.5,153 L790,68 L885,297 L595,297 L619.5,268 A232,232 0 1 0 650,604 Z"/>
<path fill="url(#leafg)" stroke="#e4f3dc" stroke-width="9" stroke-linejoin="round" d="M55,180 C130,140 300,130 420,200 C520,262 580,400 600,550 C520,590 380,600 250,540 C120,470 60,320 55,180 Z"/>
<g fill="none" stroke="#f0fae6" stroke-linecap="round">
<path d="M62,190 C200,280 420,400 592,546" stroke-width="11"/>
<path d="M270,330 C235,290 215,245 205,200 M350,385 C330,330 325,270 330,222 M470,455 C450,420 435,385 430,350 M330,375 C270,370 215,380 165,400 M470,465 C405,460 345,470 290,490" stroke-width="8.5"/>
</g>
</g>
<text x="627.23" y="204.75" font-family="Liberation Sans, sans-serif" font-size="39.61" font-weight="400" fill="url(#corg)" textLength="24.46" lengthAdjust="spacingAndGlyphs" stroke="#74c243" stroke-width="0.55">C</text>
<text x="652.81" y="204.75" font-family="Liberation Sans, sans-serif" font-size="39.61" font-weight="400" fill="url(#corg)" textLength="29.40" lengthAdjust="spacingAndGlyphs" stroke="#74c243" stroke-width="0.55">O</text>
<text x="683.44" y="204.75" font-family="Liberation Sans, sans-serif" font-size="39.61" font-weight="400" fill="url(#corg)" textLength="20.80" lengthAdjust="spacingAndGlyphs" stroke="#74c243" stroke-width="0.55">R</text>
<text x="705.94" y="204.75" font-family="Liberation Sans, sans-serif" font-size="39.61" font-weight="400" fill="url(#corg)" textLength="20.80" lengthAdjust="spacingAndGlyphs" stroke="#74c243" stroke-width="0.55">R</text>
<text x="728.28" y="204.75" font-family="Liberation Sans, sans-serif" font-size="39.61" font-weight="400" fill="url(#corg)" textLength="15.63" lengthAdjust="spacingAndGlyphs" stroke="#74c243" stroke-width="0.55">E</text>
<text x="743.52" y="204.75" font-family="Liberation Sans, sans-serif" font-size="39.61" font-weight="400" fill="url(#corg)" textLength="33.96" lengthAdjust="spacingAndGlyphs" stroke="#74c243" stroke-width="0.55">P</text>
<text x="773.65" y="204.75" font-family="Liberation Sans, sans-serif" font-size="39.61" font-weight="400" fill="url(#corg)" textLength="18.21" lengthAdjust="spacingAndGlyphs" stroke="#74c243" stroke-width="0.55">A</text>
<text x="792.93" y="204.75" font-family="Liberation Sans, sans-serif" font-size="39.61" font-weight="400" fill="url(#corg)" textLength="14.72" lengthAdjust="spacingAndGlyphs" stroke="#74c243" stroke-width="0.55">R</text>
<rect x="747.5" y="200" width="3.1" height="16.4" fill="#5cb838"/>
<text x="727.99" y="216.50" font-family="Liberation Sans, sans-serif" font-size="11.26" font-weight="400" fill="#4a4a50" textLength="17.91" lengthAdjust="spacingAndGlyphs" >FOOD</text>
<text x="751.81" y="216.50" font-family="Liberation Sans, sans-serif" font-size="11.26" font-weight="400" fill="#4a4a50" textLength="29.06" lengthAdjust="spacingAndGlyphs" >BROKERS</text>
<circle cx="809.8" cy="175.6" r="3.7" fill="none" stroke="#55585a" stroke-width="0.6"/>
<text x="809.8" y="177.6" font-family="Liberation Sans, sans-serif" font-size="5.6" fill="#55585a" text-anchor="middle">R</text>
<path fill="#686666" d="M1012.2,55 L1071.9,114.1 L1058,127.7 L998.7,67.9 Z"/>
<path fill="#0ccd3d" d="M1021.7,45.4 C1025,42 1030,39.5 1035.6,39.5 C1041,39.5 1045,41.5 1048.3,45.2 L1071.9,67.9 L1058,81.8 Z"/>
<path fill="#04426e" d="M1012.2,101.2 L1048.9,137.9 C1045,141 1041,142.9 1035.6,142.9 C1030,142.9 1026,140.5 1022.4,136.8 L998.7,113.8 Z"/>
<text x="885.56" y="197.60" font-family="Liberation Sans, sans-serif" font-size="55.60" font-weight="400" fill="#646464" textLength="295.04" lengthAdjust="spacingAndGlyphs" stroke="#646464" stroke-width="1.7" stroke-linejoin="round">Marambaia</text>
<text x="1023.6" y="228.4" font-family="Liberation Sans, sans-serif" font-size="26.70" fill="#62676c" stroke="#dde9f5" stroke-width="0.45" textLength="158.0" lengthAdjust="spacing">sementes</text>
<text x="1232.56" y="125.55" font-family="Liberation Sans, sans-serif" font-size="21.58" font-weight="700" fill="#0b2566" textLength="322.52" lengthAdjust="spacingAndGlyphs" >RELATE SUAS VENDAS PARA:</text>
<text x="1247.28" y="172.10" font-family="Liberation Sans, sans-serif" font-size="36.39" font-weight="700" fill="#0b2566" textLength="289.98" lengthAdjust="spacingAndGlyphs" >041 9 9137-1831</text>
</svg>
</body>
</html>
